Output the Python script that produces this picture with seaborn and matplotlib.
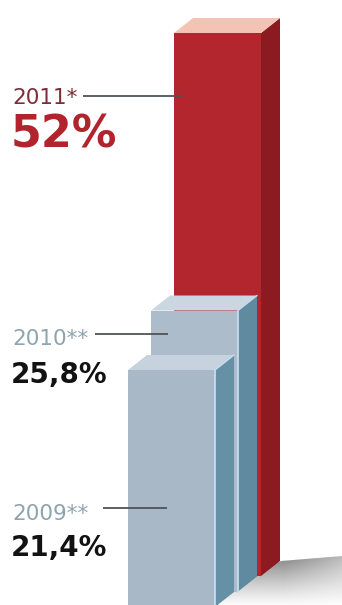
import numpy as np
import pandas as pd
import matplotlib
matplotlib.use("Agg")
import matplotlib.pyplot as plt
import seaborn as sns
from matplotlib.patches import Polygon
from matplotlib.transforms import ScaledTranslation
from matplotlib.lines import Line2D

# ---------------- data ----------------
years = ["2009", "2010", "2011"]
marks = ["**", "**", "*"]
values = [21.4, 25.8, 52.0]

# ---------------- styles ----------------
front_colors = ["#a9b8c6", "#adbccb", "#b3262d"]
side_colors = ["#6690a6", "#5f8aa0", "#8c1b21"]
top_colors = ["#c6d2dd", "#cad6e0", "#f3c3b3"]
edge_colors = ["#c6dcef", "#c6dcef", None]
year_colors = ["#8ea4ae", "#8ea4ae", "#7d2d37"]
value_colors = ["#121212", "#121212", "#b1242d"]

# ---------------- layout (pixels) ----------------
W, H, DPI = 342, 605, 100
PX_X = 23.0      # pixels per category step (depth stagger in x)
PX_Y = 10.0      # pixels per percentage point
ZERO_PX = 584    # pixel row of 0 % for the front bar
FLOOR = -2.3     # plinth bottom below zero, in %
STAG = 15.5      # vertical pixel stagger per depth step
DX, DY = 19, 15  # box depth in pixels
BAR_W = 87
FRONT_LEFT = 128

year_base = [520, 345, 104]
value_base = [556, 383, 147]
value_sizes = [20, 20, 32]
line_y = [508, 334, 96]
line_x0 = [103, 95, 83]
line_x1 = [167, 168, 182]

sns.set_theme(style="white")
plt.rcParams["font.family"] = ["DejaVu Sans"]

fig = plt.figure(figsize=(W / DPI, H / DPI), dpi=DPI)
fig.patch.set_facecolor("white")

bg = fig.add_axes([0, 0, 1, 1], zorder=0)
ax = fig.add_axes([0, 0, 1, 1], zorder=1)
ov = fig.add_axes([0, 0, 1, 1], zorder=2)
ax.patch.set_alpha(0)
ov.patch.set_alpha(0)

df = pd.DataFrame({"year": years, "value": values})
sns.barplot(data=df, x="year", y="value", hue="year", order=years,
            hue_order=years, palette=front_colors, width=BAR_W / PX_X,
            legend=False, ax=ax, linewidth=0, saturation=1, errorbar=None)

bars = sorted(ax.patches, key=lambda p: p.get_x())
ddx = DX / PX_X
ddy = DY / PX_Y
for k, p in enumerate(bars):
    off = ax.transData + ScaledTranslation(0, STAG * k / DPI, fig.dpi_scale_trans)
    top = p.get_height()
    p.set_y(FLOOR)
    p.set_height(top - FLOOR)
    p.set_transform(off)
    z = 10 - 3 * k
    p.set_zorder(z)
    x0 = p.get_x()
    x1 = x0 + p.get_width()
    side = Polygon([(x1, FLOOR), (x1 + ddx, FLOOR + ddy), (x1 + ddx, top + ddy), (x1, top)],
                   closed=True, fc=side_colors[k], ec="none", transform=off, zorder=z)
    topf = Polygon([(x0, top), (x1, top), (x1 + ddx, top + ddy), (x0 + ddx, top + ddy)],
                   closed=True, fc=top_colors[k], ec="none", transform=off, zorder=z)
    ax.add_patch(side)
    ax.add_patch(topf)
    if edge_colors[k]:
        ax.add_line(Line2D([x1, x1], [FLOOR, top], color=edge_colors[k], lw=1.3,
                           transform=off, zorder=z + 0.5))
        ax.add_line(Line2D([x1, x1 + ddx], [top, top + ddy], color=edge_colors[k], lw=1.0,
                           transform=off, zorder=z + 0.5))

ax.set_xlim(-(FRONT_LEFT + BAR_W / 2) / PX_X, (W - FRONT_LEFT - BAR_W / 2) / PX_X)
ax.set_ylim((ZERO_PX - H) / PX_Y, ZERO_PX / PX_Y)
ax.axis("off")

# floor shadow
gx = np.linspace(200, 342, 240)
gy = np.linspace(550, 605, 120)
GX, GY = np.meshgrid(gx, gy)
fy = np.clip(1 - (GY - 558) / 50, 0, 1)
fx = np.clip(1 - (GX - 285) / 130, 0, 1)
alpha = 0.78 * fy ** 1.2 * fx
img = np.zeros((len(gy), len(gx), 4))
img[..., :3] = 0.40
img[..., 3] = alpha
im = bg.imshow(img, extent=(200, 342, 605, 550), origin="upper",
               interpolation="bilinear", aspect="auto", zorder=1)
clip = Polygon([(200, 605), (200, 600), (281, 561), (342, 556), (342, 605)],
               closed=True, transform=bg.transData)
im.set_clip_path(clip)
for a in (bg, ov):
    a.set_xlim(0, W)
    a.set_ylim(H, 0)
    a.axis("off")


def fmt(v):
    return f"{v:g}".replace(".", ",") + "%"


for k in range(len(years)):
    ov.text(12, year_base[k], years[k] + marks[k], fontsize=15.5,
            color=year_colors[k], va="baseline", ha="left")
    ov.text(11, value_base[k], fmt(values[k]), fontsize=value_sizes[k],
            fontweight="bold", color=value_colors[k], va="baseline", ha="left")
    ov.plot([line_x0[k], line_x1[k]], [line_y[k], line_y[k]], color="#4d5458",
            lw=1.3, solid_capstyle="butt")

fig.savefig("out.png", dpi=DPI)
